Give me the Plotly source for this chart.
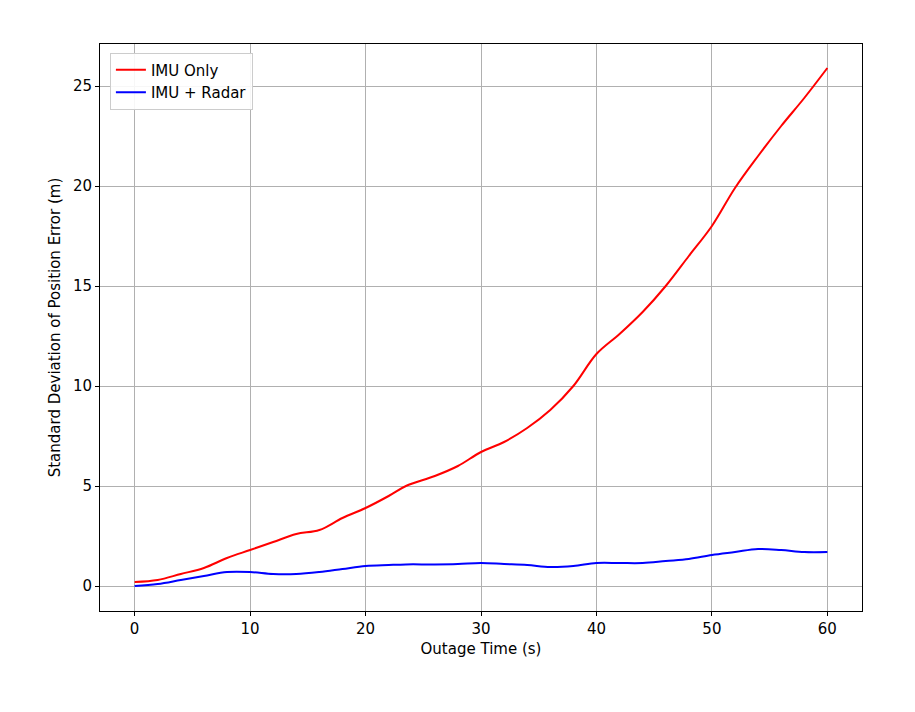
import plotly.graph_objects as go

t = [0,2,4,6,8,10,12,14,16,18,20,22,23.5,26,28,30,32,34,36,38,40,42,44,46,48,50,52,54,56,58,60]
imu_only = [0.2,0.3,0.6,0.9,1.4,1.8,2.2,2.6,2.8,3.4,3.9,4.5,5.0,5.5,6.0,6.7,7.2,7.9,8.8,10.0,11.6,12.6,13.7,15.0,16.5,18.0,19.9,21.5,23.0,24.4,25.9]
imu_radar = [0.0,0.1,0.3,0.5,0.7,0.7,0.6,0.6,0.7,0.85,1.0,1.05,1.08,1.08,1.1,1.15,1.1,1.05,0.95,1.0,1.15,1.15,1.15,1.25,1.35,1.55,1.7,1.85,1.8,1.7,1.7]

fig = go.Figure()
fig.add_trace(go.Scatter(x=t, y=imu_only, mode="lines", name="IMU Only",
                         line=dict(color="#ff0000", width=2, shape="spline")))
fig.add_trace(go.Scatter(x=t, y=imu_radar, mode="lines", name="IMU + Radar",
                         line=dict(color="#0000ff", width=2, shape="spline")))
ax = dict(showgrid=True, gridcolor="#b0b0b0", gridwidth=1, showline=True, linecolor="black",
          mirror=True, ticks="outside", ticklen=4, tickcolor="black", zeroline=False,
          tickfont=dict(size=15, color="black"))
fig.update_xaxes(**ax, range=[-3, 63], tickvals=[0,10,20,30,40,50,60],
                 title=dict(text="Outage Time (s)", font=dict(size=15, color="black"), standoff=6))
fig.update_yaxes(**ax, range=[-1.25, 27.1], tickvals=[0,5,10,15,20,25],
                 title=dict(text="Standard Deviation of Position Error (m)", font=dict(size=15, color="black"), standoff=8))
fig.update_layout(width=915, height=712, plot_bgcolor="white", paper_bgcolor="white",
                  margin=dict(l=92, r=61, t=36, b=109),
                  font=dict(family="DejaVu Sans"),
                  legend=dict(x=0.013, y=0.985, xanchor="left", yanchor="top",
                              bgcolor="rgba(255,255,255,0.9)", bordercolor="#cccccc", borderwidth=1,
                              font=dict(size=15, color="black")))
fig.write_html("out.html")
